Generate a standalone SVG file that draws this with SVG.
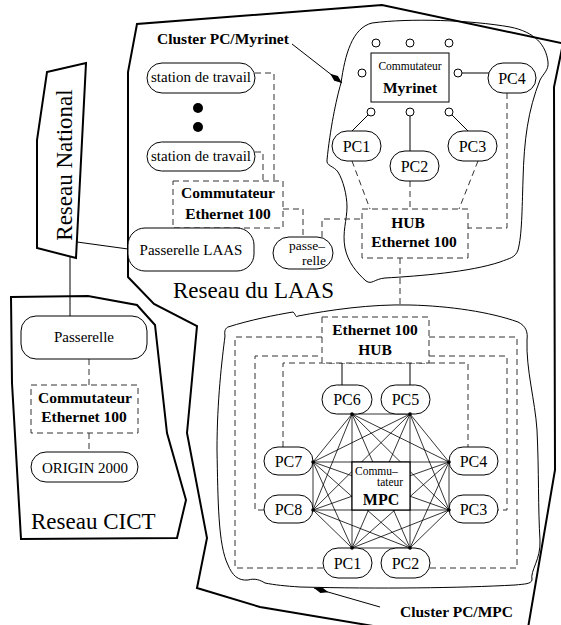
<svg xmlns="http://www.w3.org/2000/svg" width="561" height="625" viewBox="0 0 561 625">
<style>
text{font-family:"Liberation Serif","Times New Roman",serif;fill:#000}
.b{font-weight:bold;font-size:15.5px}
.r{font-size:15px}
.pc{font-size:16px}
.big{font-size:23px}
.sm{font-size:11.5px}
.m{text-anchor:middle}
.e{text-anchor:end}
.node{fill:#fff;stroke:#000;stroke-width:1}
.dash{fill:none;stroke:#333;stroke-width:1;stroke-dasharray:6 4}
.dbox{fill:#fff;stroke:#333;stroke-width:1;stroke-dasharray:6 4}
.thick{fill:none;stroke:#000;stroke-width:2;stroke-linejoin:miter}
.thin{fill:none;stroke:#000;stroke-width:1}
.mesh line{stroke:#000;stroke-width:0.8}
</style>
<defs>
<marker id="dia" markerUnits="userSpaceOnUse" markerWidth="16" markerHeight="8" refX="15" refY="3.5" orient="auto">
<path d="M0,3.5 L7.5,0.5 L15,3.5 L7.5,6.5 Z" fill="#000"/>
</marker>
</defs>

<!-- networks / regions -->
<g id="reseau-laas">
<path class="thick" d="M575,46 L382,5 L137,24 L128,72 L128,277 L154,304 L197,326 L187,433 L207,538 L197,588 L260,607 L385,628"/>
<path class="thick" d="M565,34 L554,87 L555,470 L528,628"/>
<text class="big" x="173" y="298">Reseau du LAAS</text>
</g>
<g id="reseau-cict">
<polygon class="thick" points="11,297 88,296 137,305 155,325 167,433 186,500 177,538 21,539 12,383"/>
<text class="big" x="31" y="529">Reseau CICT</text>
</g>
<g id="reseau-national">
<polygon class="thick" points="47,72 86,63 76,258 37,248 37,140" fill="#fff"/>
<text class="big m" transform="translate(72,165) rotate(-90)">Reseau National</text>
</g>

<g id="cluster-myrinet">
<path class="thin" d="M341,83 C336,100 330,130 327,160 C326,166 334,166 338,172 C343,180 347,195 347,207 C347,220 342,232 345,248 C348,262 356,272 366,281 C372,285 374,279 385,278 C420,276 470,272 500,262 C510,258 515,258 518,250 C522,235 522,210 523,180 C524,140 528,110 540,80 C543,74 549,70 548,62 C546,45 535,32 510,27 C470,20 410,18 372,23 C352,28 345,55 341,83 Z"/>
<text class="b" x="157" y="44">Cluster PC/Myrinet</text>
</g>
<g id="cluster-mpc">
<path class="thin" d="M225,336 C224,330 226,328 228,327 C250,320 275,315 293,312 C296,314 295,318 298,316 C330,310 370,304 410,305 C450,306 490,312 518,322 C526,326 528,332 527,340 C526,370 535,400 537,430 C539,470 538,510 540,540 C541,560 530,570 532,580 C531,584 525,584 515,585 C460,588 380,589 300,587 C285,586 275,585 265,583 C260,580 255,578 248,580 C238,581 232,575 228,565 C218,545 218,500 217,450 C217,400 222,360 225,336 Z"/>
<text class="b" x="400" y="617">Cluster PC/MPC</text>
</g>

<!-- connectors -->
<g id="connectors">
<line class="thin" x1="292" y1="44" x2="342" y2="83" marker-end="url(#dia)"/>
<line class="thin" x1="380" y1="607" x2="314" y2="588" marker-end="url(#dia)"/>
<line class="thin" x1="77" y1="242" x2="128" y2="249"/>
<line class="thin" x1="70" y1="256" x2="70" y2="316"/>
<line class="dash" x1="89" y1="359" x2="89" y2="385"/>
<line class="dash" x1="89" y1="433" x2="89" y2="452"/>
<polyline class="dash" points="255,73 274,73 274,181"/>
<polyline class="dash" points="255,152 263,152 263,181"/>
<polyline class="dash" points="283,209 303,209 303,237"/>
<polyline class="dash" points="322,237 322,219 362,219"/>
<line class="thin" x1="462" y1="73" x2="489" y2="73"/>
<line class="thin" x1="368" y1="115" x2="352" y2="131"/>
<line class="thin" x1="410" y1="116" x2="410" y2="151"/>
<line class="thin" x1="452" y1="115" x2="468" y2="131"/>
<line class="dash" x1="352" y1="161" x2="370" y2="209"/>
<line class="dash" x1="410" y1="181" x2="410" y2="209"/>
<line class="dash" x1="478" y1="161" x2="459" y2="209"/>
<polyline class="dash" points="507,93 507,228 468,228"/>
<line class="dash" x1="400" y1="258" x2="400" y2="306"/>
<polyline class="dash" points="323,568 235,568 235,337 322,337"/>
<polyline class="dash" points="429,337 517,337 517,568 430,568"/>
<polyline class="dash" points="264,510 255,510 255,356 322,356"/>
<polyline class="dash" points="429,356 507,356 507,510 497,510"/>
<polyline class="dash" points="283,447 283,363 468,363 468,447"/>
<line class="thin" x1="342" y1="363" x2="342" y2="385"/>
<line class="thin" x1="410" y1="363" x2="410" y2="385"/>
<g class="mesh">
<line x1="352" y1="414" x2="410" y2="414"/><line x1="352" y1="414" x2="449" y2="462"/><line x1="352" y1="414" x2="449" y2="510"/><line x1="352" y1="414" x2="410" y2="548"/><line x1="352" y1="414" x2="352" y2="548"/><line x1="352" y1="414" x2="313" y2="510"/><line x1="352" y1="414" x2="313" y2="462"/>
<line x1="410" y1="414" x2="449" y2="462"/><line x1="410" y1="414" x2="449" y2="510"/><line x1="410" y1="414" x2="410" y2="548"/><line x1="410" y1="414" x2="352" y2="548"/><line x1="410" y1="414" x2="313" y2="510"/><line x1="410" y1="414" x2="313" y2="462"/>
<line x1="449" y1="462" x2="449" y2="510"/><line x1="449" y1="462" x2="410" y2="548"/><line x1="449" y1="462" x2="352" y2="548"/><line x1="449" y1="462" x2="313" y2="510"/><line x1="449" y1="462" x2="313" y2="462"/>
<line x1="449" y1="510" x2="410" y2="548"/><line x1="449" y1="510" x2="352" y2="548"/><line x1="449" y1="510" x2="313" y2="510"/><line x1="449" y1="510" x2="313" y2="462"/>
<line x1="410" y1="548" x2="352" y2="548"/><line x1="410" y1="548" x2="313" y2="510"/><line x1="410" y1="548" x2="313" y2="462"/>
<line x1="352" y1="548" x2="313" y2="510"/><line x1="352" y1="548" x2="313" y2="462"/>
<line x1="313" y1="510" x2="313" y2="462"/>
</g>
</g>

<!-- nodes: LAAS -->
<g id="station1"><rect class="node" x="147" y="63" width="108" height="30" rx="15"/><text class="r m" x="201" y="82">station de travail</text></g>
<g id="dots"><circle cx="198" cy="108" r="5" fill="#000"/><circle cx="198" cy="127" r="5" fill="#000"/></g>
<g id="station2"><rect class="node" x="147" y="142" width="108" height="29" rx="14.5"/><text class="r m" x="201" y="161">station de travail</text></g>
<g id="commutateur-laas"><rect class="dbox" x="173" y="181" width="110" height="47"/><text class="b m" x="228" y="198">Commutateur</text><text class="b m" x="228" y="219">Ethernet 100</text></g>
<g id="passerelle-laas"><rect class="node" x="128" y="228" width="126" height="43" rx="17"/><text class="r m" x="191" y="255">Passerelle LAAS</text></g>
<g id="passerelle-small"><rect class="node" x="273" y="237" width="60" height="32" rx="16"/><text class="e" style="font-size:13.5px" x="325" y="250">passe–</text><text class="e" style="font-size:13.5px" x="326" y="265">relle</text></g>
<g id="hub-laas"><rect class="dbox" x="362" y="209" width="106" height="49"/><text class="b m" x="408" y="228">HUB</text><text class="b m" x="414" y="247">Ethernet 100</text></g>

<!-- Myrinet cluster -->
<g id="commutateur-myrinet">
<rect class="node" x="371" y="53" width="78" height="49"/>
<text class="sm m" x="410" y="70">Commutateur</text>
<text class="b m" x="410" y="93">Myrinet</text>
<circle class="node" cx="376" cy="43" r="4"/><circle class="node" cx="410" cy="43" r="4"/><circle class="node" cx="449" cy="43" r="4"/>
<circle class="node" cx="362" cy="73" r="4"/><circle class="node" cx="458" cy="73" r="4"/>
<circle class="node" cx="371" cy="112" r="4"/><circle class="node" cx="410" cy="112" r="4"/><circle class="node" cx="449" cy="112" r="4"/>
</g>
<g id="myr-pc1"><rect class="node" x="332" y="131" width="49" height="30" rx="15"/><text class="pc m" x="356.5" y="152">PC1</text></g>
<g id="myr-pc2"><rect class="node" x="390" y="151" width="49" height="30" rx="15"/><text class="pc m" x="414.5" y="172">PC2</text></g>
<g id="myr-pc3"><rect class="node" x="448" y="131" width="49" height="30" rx="15"/><text class="pc m" x="472.5" y="152">PC3</text></g>
<g id="myr-pc4"><rect class="node" x="488" y="63" width="48" height="30" rx="15"/><text class="pc m" x="512" y="84">PC4</text></g>

<!-- CICT -->
<g id="passerelle-cict"><rect class="node" x="21" y="316" width="126" height="43" rx="15"/><text class="r m" x="84" y="342">Passerelle</text></g>
<g id="commutateur-cict"><rect class="dbox" x="31" y="385" width="107" height="48"/><text class="b m" x="85" y="403">Commutateur</text><text class="b m" x="84" y="422">Ethernet 100</text></g>
<g id="origin2000"><rect class="node" x="31" y="452" width="107" height="30" rx="15"/><text class="r m" x="85" y="473">ORIGIN 2000</text></g>

<!-- MPC cluster -->
<g id="hub-mpc"><rect class="dbox" x="322" y="317" width="107" height="46"/><text class="b m" x="375" y="335">Ethernet 100</text><text class="b m" x="375" y="355">HUB</text></g>
<g id="mpc-pc6"><rect class="node" x="322" y="385" width="50" height="29" rx="14.5"/><text class="pc m" x="347" y="405">PC6</text></g>
<g id="mpc-pc5"><rect class="node" x="381" y="385" width="49" height="29" rx="14.5"/><text class="pc m" x="405.5" y="405">PC5</text></g>
<g id="mpc-pc7"><rect class="node" x="264" y="447" width="49" height="28" rx="14"/><text class="pc m" x="288.5" y="467">PC7</text></g>
<g id="mpc-pc8"><rect class="node" x="264" y="495" width="49" height="28" rx="14"/><text class="pc m" x="288.5" y="515">PC8</text></g>
<g id="mpc-pc4"><rect class="node" x="449" y="447" width="49" height="28" rx="14"/><text class="pc m" x="473.5" y="467">PC4</text></g>
<g id="mpc-pc3"><rect class="node" x="449" y="495" width="49" height="28" rx="14"/><text class="pc m" x="473.5" y="515">PC3</text></g>
<g id="mpc-pc1"><rect class="node" x="323" y="548" width="49" height="30" rx="15"/><text class="pc m" x="347.5" y="569">PC1</text></g>
<g id="mpc-pc2"><rect class="node" x="381" y="548" width="49" height="30" rx="15"/><text class="pc m" x="405.5" y="569">PC2</text></g>
<g id="commutateur-mpc">
<rect x="352" y="462" width="58" height="48" fill="#fff" stroke="#000" stroke-width="1.2"/>
<text class="sm" x="355" y="475">Commu–</text>
<text class="sm" x="377" y="486">tateur</text>
<text class="b m" x="381" y="505" style="font-size:16px">MPC</text>
</g>
<g id="mesh-dots" fill="#000">
<circle cx="352" cy="414" r="1.8"/><circle cx="410" cy="414" r="1.8"/><circle cx="449" cy="462" r="1.8"/><circle cx="449" cy="510" r="1.8"/>
<circle cx="410" cy="548" r="1.8"/><circle cx="352" cy="548" r="1.8"/><circle cx="313" cy="510" r="1.8"/><circle cx="313" cy="462" r="1.8"/>
</g>
</svg>
